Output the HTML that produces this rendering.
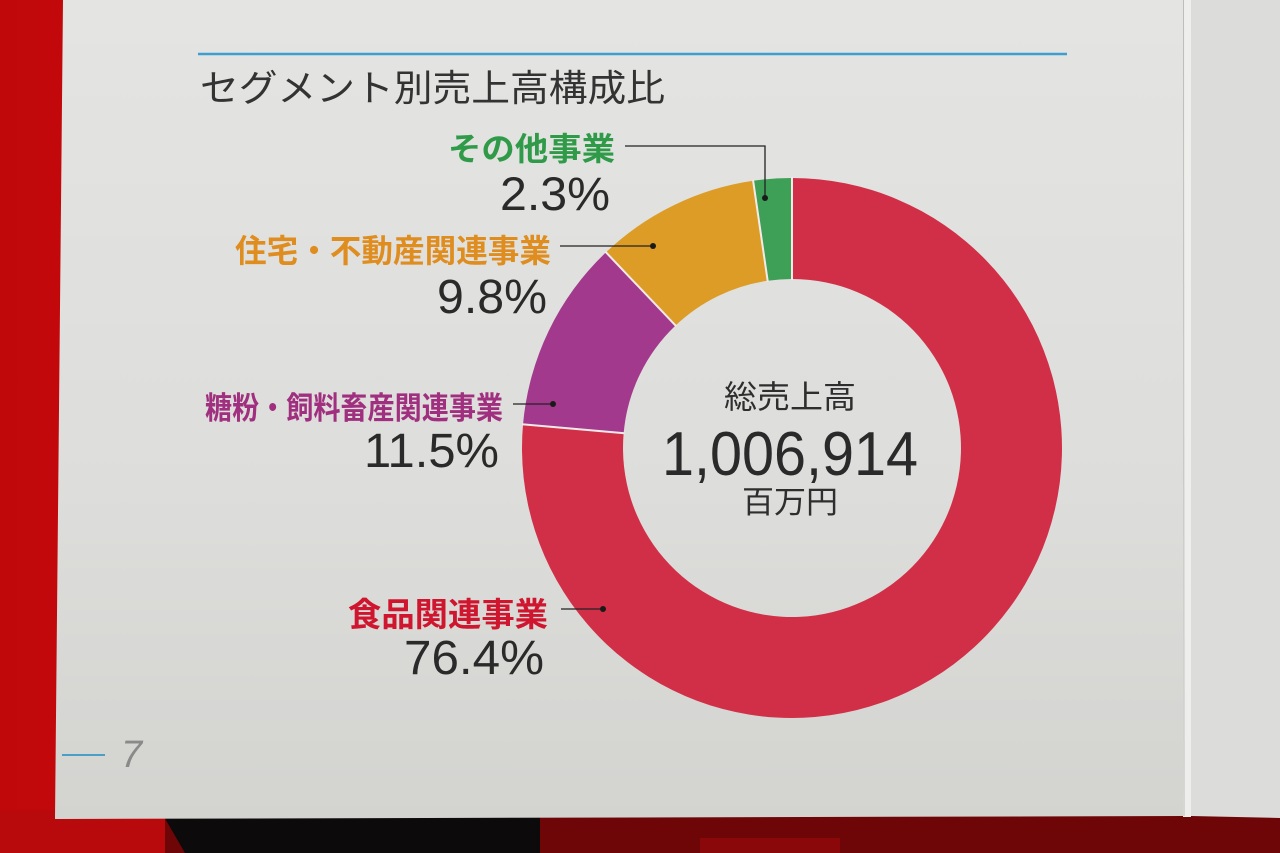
<!DOCTYPE html>
<html><head><meta charset="utf-8"><style>
html,body{margin:0;padding:0;width:1280px;height:853px;overflow:hidden;background:#c80d10}
svg{display:block}
.jp{font-family:"Liberation Sans","Noto Sans CJK JP",sans-serif}
.num{font-family:"Liberation Sans","DejaVu Sans",sans-serif;fill:#2a2a2a}
</style></head><body>
<svg width="1280" height="853" viewBox="0 0 1280 853" xmlns="http://www.w3.org/2000/svg">
<defs>
<linearGradient id="pg" x1="0" y1="0" x2="0" y2="1">
<stop offset="0" stop-color="#e4e4e2"/><stop offset="0.6" stop-color="#dddddb"/><stop offset="1" stop-color="#d3d4d0"/>
</linearGradient>
<linearGradient id="rd" x1="0" y1="0" x2="1" y2="0">
<stop offset="0" stop-color="#c0080a"/><stop offset="0.5" stop-color="#d80d10"/><stop offset="1" stop-color="#c60a0c"/>
</linearGradient>
</defs>
<!-- background -->
<rect x="0" y="0" width="1280" height="853" fill="url(#rd)"/>
<rect x="0" y="810" width="1280" height="43" fill="#6e0507"/>
<rect x="0" y="810" width="165" height="43" fill="#b80a0c"/>
<polygon points="163,815 540,815 540,853 185,853" fill="#0c0a0a"/>
<rect x="700" y="838" width="140" height="15" fill="#8a0809"/>
<!-- main page -->
<polygon points="63,0 1183,0 1183,816 55,819" fill="url(#pg)"/>
<!-- gutter + right page -->
<rect x="1183" y="0" width="8" height="817" fill="#eeeeec"/>
<polygon points="1191,0 1280,0 1280,818 1191,816" fill="#dcdcda"/>
<line x1="1183.5" y1="0" x2="1184" y2="816" stroke="#bdbdbb" stroke-width="1"/>

<!-- top rule -->
<line x1="198" y1="54" x2="1067" y2="54" stroke="#3c9fd0" stroke-width="2.5"/>
<text class="jp" x="200" y="101" font-size="37" fill="#333" textLength="465" lengthAdjust="spacingAndGlyphs">セグメント別売上高構成比</text>

<!-- donut -->
<g>
<path d="M792,178 A270,270 0 1 1 523.04,424.28 L623.65,433.15 A169,169 0 1 0 792,279 Z" fill="#d12f47"/>
<path d="M523.04,424.28 A270,270 0 0 1 605.97,252.30 L675.56,325.51 A169,169 0 0 0 623.65,433.15 Z" fill="#a2398d"/>
<path d="M605.97,252.30 A270,270 0 0 1 753.12,180.81 L767.66,280.76 A169,169 0 0 0 675.56,325.51 Z" fill="#dc9c26"/>
<path d="M753.12,180.81 A270,270 0 0 1 792,178 L792,279 A169,169 0 0 0 767.66,280.76 Z" fill="#3da056"/>
</g>
<g stroke="#f4eaea" stroke-width="2">
<line x1="792" y1="177" x2="792" y2="280"/>
<line x1="522" y1="424.2" x2="624.6" y2="433.2"/>
<line x1="605.3" y1="251.6" x2="676.2" y2="326.2"/>
<line x1="753" y1="179.8" x2="767.8" y2="281.8"/>
</g>

<!-- leader lines -->
<g stroke="#222" stroke-width="1.3" fill="none">
<polyline points="625,146 765,146 765,197"/>
<line x1="560" y1="246" x2="653" y2="246"/>
<line x1="513" y1="404" x2="553" y2="404"/>
<line x1="561" y1="609" x2="603" y2="609"/>
</g>
<g fill="#1a1a1a">
<circle cx="765" cy="198" r="3"/>
<circle cx="653" cy="246" r="3"/>
<circle cx="553" cy="404" r="3"/>
<circle cx="603" cy="609" r="3"/>
</g>

<!-- labels -->
<text class="jp" x="448" y="160" font-size="32" font-weight="bold" fill="#2f9a48" textLength="167" lengthAdjust="spacingAndGlyphs">その他事業</text>
<text class="num" x="500" y="210" font-size="47" textLength="110" lengthAdjust="spacingAndGlyphs">2.3%</text>

<text class="jp" x="235" y="262" font-size="32" font-weight="bold" fill="#df8d1f" textLength="316" lengthAdjust="spacingAndGlyphs">住宅・不動産関連事業</text>
<text class="num" x="437" y="313" font-size="48" textLength="110" lengthAdjust="spacingAndGlyphs">9.8%</text>

<text class="jp" x="205" y="419" font-size="31" font-weight="bold" fill="#a0307f" textLength="298" lengthAdjust="spacingAndGlyphs">糖粉・飼料畜産関連事業</text>
<text class="num" x="364" y="467" font-size="48" textLength="135" lengthAdjust="spacingAndGlyphs">11.5%</text>

<text class="jp" x="348" y="626" font-size="33" font-weight="bold" fill="#d0162f" textLength="200" lengthAdjust="spacingAndGlyphs">食品関連事業</text>
<text class="num" x="404" y="674" font-size="48" textLength="140" lengthAdjust="spacingAndGlyphs">76.4%</text>

<!-- center -->
<text class="jp" x="724" y="408" font-size="32" fill="#2e2e2e" textLength="132" lengthAdjust="spacingAndGlyphs">総売上高</text>
<text class="num" x="662" y="475" font-size="62" textLength="256" lengthAdjust="spacingAndGlyphs">1,006,914</text>
<text class="jp" x="742" y="513" font-size="31" fill="#2e2e2e" textLength="96" lengthAdjust="spacingAndGlyphs">百万円</text>

<!-- page number -->
<line x1="62" y1="755" x2="105" y2="755" stroke="#4a9ec8" stroke-width="2"/>
<text class="num" x="121" y="767" font-size="38" style="fill:#8a8a8a" font-style="italic">7</text>
</svg>
</body></html>
